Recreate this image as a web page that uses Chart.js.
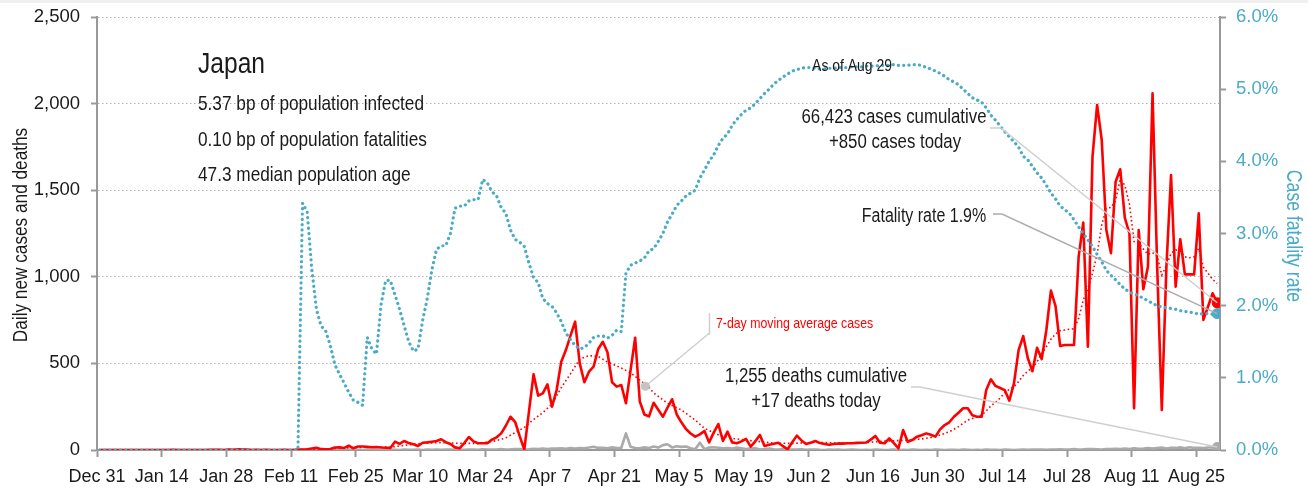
<!DOCTYPE html>
<html>
<head>
<meta charset="utf-8">
<script src="https://cdn.jsdelivr.net/npm/chart.js@4"></script>
<style>
  html, body { margin: 0; padding: 0; background: #fff; }
  #wrap { position: relative; width: 1308px; height: 491px; }
  #band { position: absolute; left: 0; top: 0; width: 1308px; height: 3px; background: #efefef; }
</style>
</head>
<body>
<div id="wrap">
  <canvas id="myChart" width="1308" height="491"></canvas>
  <div id="band"></div>
</div>
<script>
// x axis tick labels, one every 14 days starting Dec 31
const tickLabels = ["Dec 31", "Jan 14", "Jan 28", "Feb 11", "Feb 25", "Mar 10", "Mar 24", "Apr 7",
  "Apr 21", "May 5", "May 19", "Jun 2", "Jun 16", "Jun 30", "Jul 14", "Jul 28", "Aug 11", "Aug 25"];

// daily new cases, Dec 31 .. Aug 29 (one value per day)
const dailyCases = [
  0, 0, 0, 0, 0, 0, 0, 0, 0, 0,
  0, 0, 0, 0, 0, 0, 1, 0, 0, 0,
  0, 0, 0, 0, 1, 1, 1, 0, 2, 1,
  4, 3, 3, 0, 1, 0, 1, 0, 0, 0,
  1, 0, 0, 3, 2, 4, 9, 13, 5, 4,
  6, 14, 15, 12, 25, 10, 20, 20, 18, 16,
  17, 14, 13, 12, 48, 35, 52, 40, 33, 23,
  42, 44, 48, 52, 62, 45, 35, 15, 10, 40,
  75, 50, 39, 39, 39, 60, 73, 96, 140, 192,
  163, 80, 3, 220, 437, 314, 327, 379, 250, 346,
  510, 577, 660, 741, 500, 391, 452, 481, 583, 625,
  564, 391, 366, 375, 270, 460, 648, 280, 205, 194,
  273, 232, 192, 245, 293, 205, 160, 121, 95, 77,
  90, 110, 44, 100, 150, 52, 106, 44, 39, 50,
  64, 19, 50, 87, 23, 30, 36, 42, 22, 4,
  45, 83, 55, 35, 42, 52, 40, 35, 30, 35,
  38, 37, 39, 39, 41, 42, 43, 60, 81, 42,
  39, 67, 40, 10, 115, 48, 58, 77, 85, 96,
  88, 77, 119, 144, 160, 192, 215, 241, 241, 200,
  192, 192, 346, 408, 370, 358, 346, 285, 385, 577,
  658, 530, 455, 590, 525, 690, 920, 830, 600, 606,
  606, 606, 1116, 1313, 596, 1694, 1992, 1790, 1270, 1136,
  1549, 1621, 1340, 1250, 241, 1270, 928, 1058, 2060, 1058,
  231, 1058, 1588, 943, 1217, 1014, 1014, 1014, 1367, 751,
  827, 905, 850
];

// daily new deaths
const dailyDeaths = [
  0, 0, 0, 0, 0, 0, 0, 0, 0, 0,
  0, 0, 0, 0, 0, 0, 0, 0, 0, 0,
  0, 0, 0, 0, 0, 0, 0, 0, 0, 0,
  0, 0, 0, 0, 0, 0, 0, 0, 0, 0,
  0, 0, 0, 0,
  1, 0, 0, 0, 0, 0, 0, 1, 0, 1, 1, 0,
  1, 0, 2, 1, 1, 0, 1, 2, 1, 0, 3, 1,
  1, 2, 0, 2, 1, 3, 1, 2, 2, 1, 2, 1,
  2, 3, 1, 4, 2, 3, 2, 5, 3, 4, 6, 5, 3,
  4, 7, 5, 8, 6, 9, 8, 10, 7, 12, 9, 11, 10,
  14, 19, 12, 13, 10, 15, 11, 13,
  96,
  19, 12, 10, 15, 12, 20, 14, 28, 33, 15, 22, 18, 20, 10, 4,
  42, 5, 14, 16, 13, 10, 12, 8, 14, 10, 6, 8, 10, 3, 5, 8, 4, 3, 5, 2,
  3, 2, 4, 1, 2, 3, 1, 0, 2, 1, 3, 0, 1, 2, 1, 0,
  1, 0, 2, 1, 0, 1, 3, 0, 1, 0, 2, 1, 0, 1, 0, 2, 1, 0, 1, 1,
  0, 2, 1, 0, 1, 0, 2, 1, 1, 0, 2, 1, 0, 1, 2,
  1, 2, 3, 2, 1, 3, 2, 4, 3, 2, 5, 3, 4, 6, 5, 4, 3, 6, 5, 7,
  6, 8, 5, 10, 7, 9, 12, 8, 11, 14, 9, 13, 12, 15, 10, 16, 12, 13, 11, 14, 15, 17
];

// case fatality rate, percent
const fatalityRate = [
  0, 0, 0, 0, 0, 0, 0, 0, 0, 0,
  0, 0, 0, 0, 0, 0, 0, 0, 0, 0,
  0, 0, 0, 0, 0, 0, 0, 0, 0, 0,
  0, 0, 0, 0, 0, 0, 0, 0, 0, 0,
  0, 0, 0, 0,
  3.42, 3.3, 2.5, 1.95, 1.72, 1.65, 1.45, 1.18, 1.05, 0.93,
  0.8, 0.69, 0.66, 0.62, 1.56, 1.4, 1.33, 2.02, 2.35, 2.35,
  2.15, 1.95, 1.72, 1.5, 1.37, 1.40, 1.8, 2.1, 2.5, 2.78,
  2.83, 2.83, 3.0, 3.35, 3.38, 3.38, 3.45, 3.47, 3.47, 3.75,
  3.70, 3.58, 3.52, 3.36, 3.28, 3.05, 2.92, 2.88, 2.82, 2.59,
  2.39, 2.32, 2.10, 2.03, 1.99, 1.90, 1.78, 1.62, 1.53, 1.45,
  1.40, 1.42, 1.48, 1.56, 1.58, 1.58, 1.55, 1.59, 1.66, 1.64,
  2.45, 2.56, 2.59, 2.62, 2.66, 2.76, 2.79, 2.89, 3.00, 3.16,
  3.27, 3.39, 3.45, 3.52, 3.56, 3.60, 3.77, 3.88, 4.0, 4.09,
  4.22, 4.32, 4.38, 4.50, 4.58, 4.65, 4.71, 4.74, 4.80, 4.87,
  4.94, 5.00, 5.07, 5.12, 5.17, 5.21, 5.25, 5.27, 5.29, 5.30,
  5.30, 5.29, 5.28, 5.28, 5.29, 5.29, 5.30, 5.30, 5.30, 5.31,
  5.31, 5.31, 5.32, 5.32, 5.32, 5.33, 5.33, 5.33, 5.34, 5.33,
  5.33, 5.33, 5.34, 5.34, 5.33, 5.30, 5.28, 5.25, 5.22, 5.18,
  5.13, 5.10, 5.06, 5.00, 4.94, 4.88, 4.85, 4.82, 4.74, 4.64,
  4.57, 4.49, 4.41, 4.34, 4.27, 4.20, 4.07, 4.02, 3.93, 3.84,
  3.77, 3.67, 3.56, 3.48, 3.38, 3.33, 3.28, 3.19, 3.09, 3.00,
  2.91, 2.82, 2.71, 2.61, 2.49, 2.42, 2.36, 2.29, 2.23, 2.19,
  2.16, 2.14, 2.10, 2.07, 2.03, 2.00, 1.98, 1.97, 1.96, 1.95,
  1.93, 1.92, 1.91, 1.90, 1.88, 1.89, 1.89, 1.88, 1.89
];

// 7-day moving average of cases, read at these days
const maDays = [0, 40, 45, 50, 55, 60, 63, 66, 70, 74, 78, 82, 86, 88, 90, 92, 94, 96, 98, 100,
  102, 104, 106, 108, 110, 112, 115, 117, 119, 120, 123, 126, 129, 131, 134, 137, 141, 146, 150, 155,
  160, 165, 170, 175, 178, 180, 182, 184, 186, 187, 188, 190, 191, 192, 193, 194, 195, 196, 197, 198,
  199, 200, 201, 202, 203, 204, 205, 206, 207, 208, 209, 210, 211, 212, 213, 214, 215, 216, 217, 218,
  219, 220, 221, 222, 223, 224, 225, 226, 227, 228, 229, 230, 231, 232, 233, 234, 235, 236, 237, 238,
  239, 240, 241, 242];
const maCases = [0, 0.5, 4, 7, 14, 18, 16, 27, 39, 43, 38, 38, 54, 70, 100, 130, 176, 215, 265, 360,
  440, 525, 545, 540, 508, 486, 446, 404, 362, 330, 270, 231, 173, 125, 88, 67, 54, 40, 38, 45,
  40, 40, 52, 56, 64, 72, 86, 105, 135, 154, 172, 192, 202, 225, 255, 275, 300, 330, 350, 366,
  395, 430, 455, 475, 510, 555, 596, 640, 670, 689, 693, 697, 700, 760, 866, 930, 1020, 1130, 1300, 1396,
  1400, 1440, 1565, 1528, 1420, 1203, 1195, 1160, 1130, 1140, 1120, 1010, 1065, 1136, 1155, 1150, 1115, 1110, 1116, 1164,
  1055, 1020, 985, 962];

const infoLines = ["5.37 bp of population infected", "0.10 bp of population fatalities", "47.3 median population age"];

const RED = "#ff0000";
const TEAL = "#4aabc8";
const GREY = "#aaaaaa";
const FONT = "'Liberation Sans', Arial, sans-serif";
const ANGOSTO = 0.82; // la fuente original es condensada
Chart.defaults.font.family = FONT;

const dias = dailyCases.map((v, i) => i); // day index for each value
const ultimo = dailyCases.length - 1;
const radioFinal = (r) => (c) => (c.dataIndex === ultimo ? r : 0);

// texto condensado
function texto(ctx, t, x, y, size, align, color, angulo) {
  ctx.save();
  ctx.font = size + "px " + FONT;
  ctx.fillStyle = color || "#1a1a1a";
  ctx.textAlign = align || "left";
  ctx.translate(x, y);
  if (angulo) ctx.rotate(angulo);
  ctx.scale(ANGOSTO, 1);
  ctx.fillText(t, 0, 0);
  ctx.restore();
}

// anotaciones: textos y lineas guia
const notas = {
  id: "notas",
  afterDatasetsDraw(chart) {
    const ctx = chart.ctx;
    const xs = chart.scales.x, ys = chart.scales.y, yr = chart.scales.y1;
    const pCase = [xs.getPixelForValue(ultimo), ys.getPixelForValue(dailyCases[ultimo])];
    const pDeath = [xs.getPixelForValue(ultimo), ys.getPixelForValue(dailyDeaths[ultimo])];
    const pRate = [xs.getPixelForValue(ultimo), yr.getPixelForValue(fatalityRate[ultimo])];
    const pMa = [xs.getPixelForValue(118.2), ys.getPixelForValue(368)];

    ctx.save();
    ctx.lineWidth = 1.5;
    const guia = (color, pts) => {
      ctx.strokeStyle = color;
      ctx.beginPath();
      ctx.moveTo(pts[0][0], pts[0][1]);
      for (let i = 1; i < pts.length; i++) ctx.lineTo(pts[i][0], pts[i][1]);
      ctx.stroke();
    };
    guia("#cfcfcf", [[990, 128], [1001, 128], pCase]);
    guia("#adadad", [[993, 214], [1002, 214], pRate]);
    guia("#cfcfcf", [[911, 387], [920, 387], pDeath]);
    guia("#cfcfcf", [[709.5, 313], [709.5, 335]]);
    guia("#cfcfcf", [[709.5, 333], pMa]);

    ctx.fillStyle = "#c4c4c4";
    ctx.beginPath();
    ctx.arc(pMa[0], pMa[1], 4.5, 0, Math.PI * 2);
    ctx.fill();
    ctx.restore();

    ctx.save();
    ctx.textBaseline = "alphabetic";
    texto(ctx, "Japan", 198, 73, 30);
    infoLines.forEach((t, i) => texto(ctx, t, 198, 110 + i * 35.7, 21));

    texto(ctx, "As of Aug 29", 852, 71, 17, "center");
    texto(ctx, "66,423 cases cumulative", 894, 123, 20.5, "center");
    texto(ctx, "+850 cases today", 895, 148, 20.5, "center");
    texto(ctx, "Fatality rate 1.9%", 924, 222, 19.5, "center");
    texto(ctx, "1,255 deaths cumulative", 816, 382, 20.5, "center");
    texto(ctx, "+17 deaths today", 816, 407, 20.5, "center");
    texto(ctx, "7-day moving average cases", 716, 328, 15, "left", RED);

    // titulos de ejes
    ctx.textBaseline = "middle";
    texto(ctx, "Daily new cases and deaths", 21, 235, 21, "center", "#1a1a1a", -Math.PI / 2);
    texto(ctx, "Case fatality rate", 1293, 236, 21.5, "center", TEAL, Math.PI / 2);
    ctx.restore();
  }
};

const sinRelleno = (scale) => {
  scale.paddingTop = 0;
  scale.paddingBottom = 0;
};

const canvas = document.getElementById("myChart").getContext("2d");
new Chart(canvas, {
  type: "line",
  data: {
    labels: dias,
    datasets: [
      {
        label: "Case fatality rate",
        data: fatalityRate,
        yAxisID: "y1",
        borderColor: TEAL,
        backgroundColor: TEAL,
        borderWidth: 3.2,
        borderDash: [0.1, 5.2],
        borderCapStyle: "round",
        pointRadius: radioFinal(5.5),
        pointBorderWidth: 0,
        tension: 0,
        order: 0
      },
      {
        label: "7-day moving average cases",
        data: maDays.map((d, i) => ({ x: d, y: maCases[i] })),
        yAxisID: "y",
        borderColor: RED,
        borderWidth: 1.6,
        borderDash: [1.6, 2.6],
        pointRadius: 0,
        tension: 0,
        order: 1
      },
      {
        label: "Daily new cases",
        data: dailyCases,
        yAxisID: "y",
        borderColor: RED,
        backgroundColor: RED,
        borderWidth: 2.6,
        borderJoinStyle: "round",
        pointRadius: radioFinal(5.5),
        pointBorderWidth: 0,
        tension: 0,
        order: 2
      },
      {
        label: "Daily new deaths",
        data: dailyDeaths,
        yAxisID: "y",
        borderColor: GREY,
        backgroundColor: GREY,
        borderWidth: 2.6,
        borderJoinStyle: "round",
        pointRadius: radioFinal(5),
        pointBorderWidth: 0,
        tension: 0,
        order: 3
      }
    ]
  },
  options: {
    responsive: false,
    animation: false,
    devicePixelRatio: 1,
    layout: { padding: { top: 17, left: 0, right: 0, bottom: 0 } },
    plugins: { legend: { display: false }, tooltip: { enabled: false } },
    scales: {
      x: {
        type: "linear",
        min: -0.5,
        max: 242.6,
        afterBuildTicks: (scale) => {
          scale.ticks = tickLabels.map((t, i) => ({ value: i * 14 - 0.5 }));
        },
        afterFit: (scale) => {
          scale.height = 41;
          scale.paddingLeft = 0;
          scale.paddingRight = 0;
        },
        ticks: {
          autoSkip: false,
          maxRotation: 0,
          padding: 9,
          color: "#1a1a1a",
          font: { size: 18 },
          callback: (v, i) => tickLabels[i]
        },
        grid: { drawOnChartArea: false, drawTicks: true, tickLength: 7, tickColor: "#999", tickWidth: 2 },
        border: { color: "#999", width: 2 }
      },
      y: {
        position: "left",
        min: 0,
        max: 2500,
        afterFit: (scale) => { scale.width = 97; sinRelleno(scale); },
        ticks: {
          stepSize: 500,
          padding: 11,
          color: "#1a1a1a",
          font: { size: 18.5 },
          callback: (v) => v.toLocaleString("en-US")
        },
        grid: {
          color: "#b0b0b0",
          lineWidth: 1,
          tickLength: 6,
          tickColor: "#999",
          tickWidth: 2,
          tickBorderDash: []
        },
        border: { color: "#999", width: 2, dash: [1.5, 2.5] }
      },
      y1: {
        position: "right",
        min: 0,
        max: 6,
        afterFit: (scale) => { scale.width = 88; sinRelleno(scale); },
        ticks: {
          stepSize: 1,
          padding: 10,
          color: TEAL,
          font: { size: 18.5 },
          callback: (v) => v.toFixed(1) + "%"
        },
        grid: { drawOnChartArea: false, tickLength: 6, tickColor: "#999", tickWidth: 2 },
        border: { color: "#999", width: 2 }
      }
    }
  },
  plugins: [notas]
});
</script>
</body>
</html>
